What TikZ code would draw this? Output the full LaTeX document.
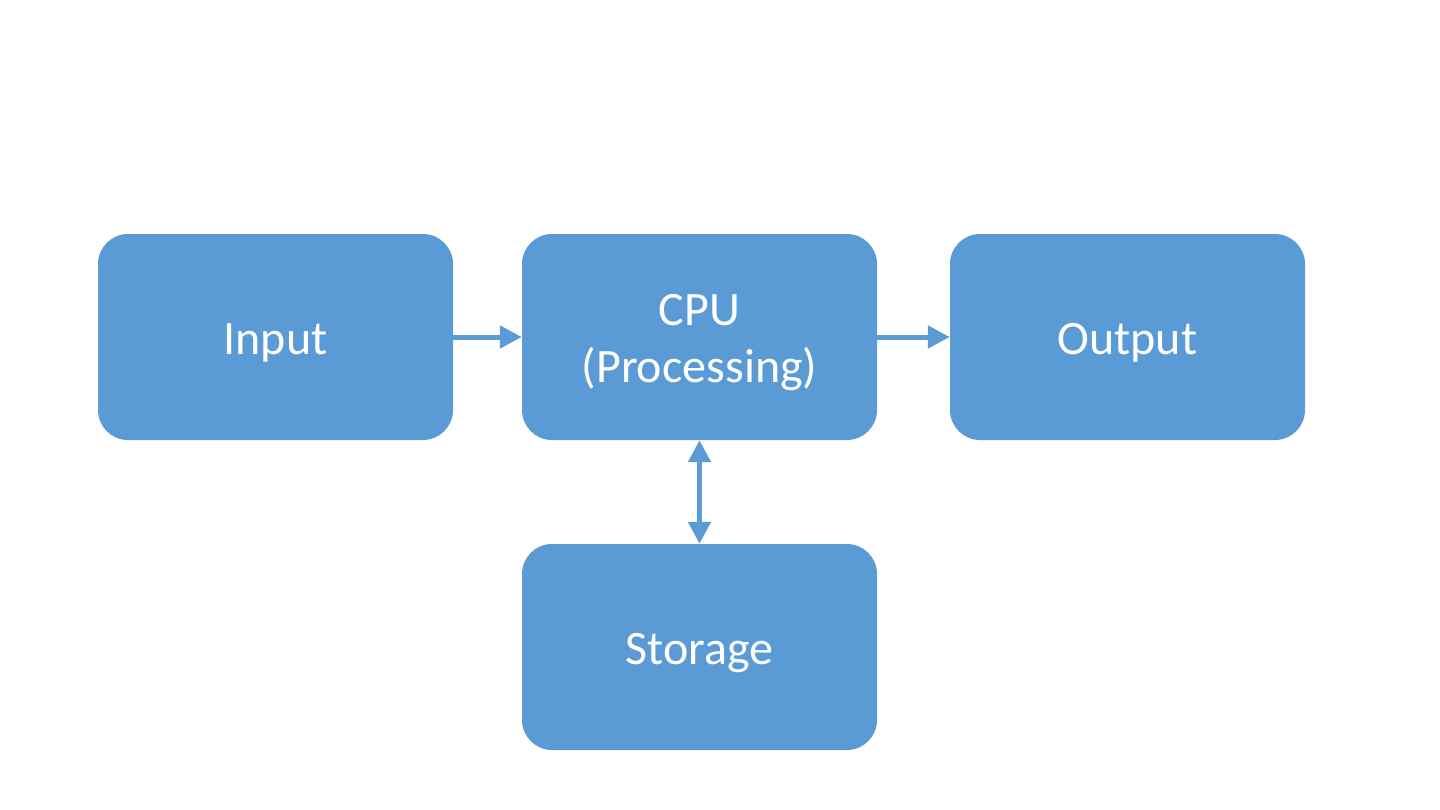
\documentclass[tikz,border=0pt]{standalone}
\usepackage{fontspec}
\setmainfont{Carlito}
\usetikzlibrary{arrows.meta}
\definecolor{boxblue}{HTML}{5B9BD5}
\tikzset{
  blk/.style={fill=boxblue, draw=none, rounded corners=30pt, minimum width=355pt, minimum height=206pt, inner sep=0pt},
  blktext/.style={text=white, font=\fontsize{48}{57}\selectfont, align=center, inner sep=0pt},
  conn/.style={draw=boxblue, line width=5pt, -{Triangle[length=22pt,width=22pt]}},
  dconn/.style={draw=boxblue, line width=5pt, {Triangle[length=22pt,width=22pt]}-{Triangle[length=22pt,width=22pt]}}
}
\begin{document}
\begin{tikzpicture}[x=1pt,y=-1pt]
\useasboundingbox (0,0) rectangle (1440,809);
\node[blk] (input) at (275.5,337) {};
\node[blk] (cpu) at (699.5,337) {};
\node[blk] (output) at (1127.5,337) {};
\node[blk] (storage) at (699.5,647) {};
\node[blktext] (inputtext) at ([yshift=-6pt]input.center) {Input};
\node[blktext] (cputext) at ([yshift=-6pt]cpu.center) {CPU\\(Processing)};
\node[blktext] (outputtext) at ([yshift=-6pt]output.center) {Output};
\node[blktext] (storagetext) at ([yshift=-6pt]storage.center) {Storage};
\draw[conn] (input.east) -- (cpu.west);
\draw[conn] (cpu.east) -- (output.west);
\draw[dconn] (cpu.south) -- (storage.north);
\end{tikzpicture}
\end{document}
